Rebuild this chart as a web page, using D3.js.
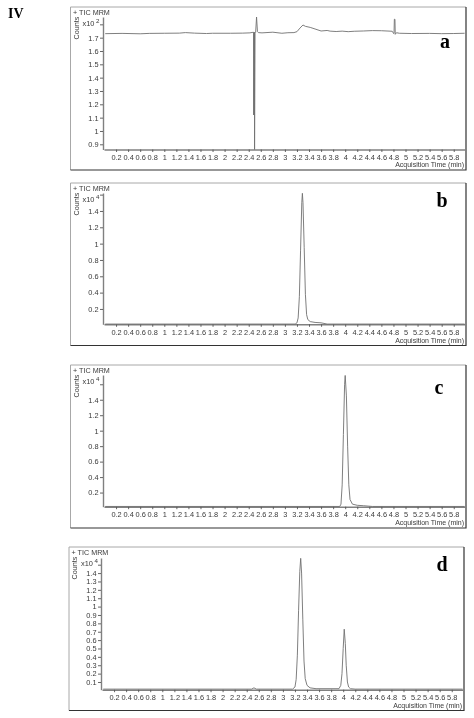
<!DOCTYPE html>
<html>
<head>
<meta charset="utf-8">
<script src="https://cdn.jsdelivr.net/npm/d3@7"></script>
<style>
  html, body { margin: 0; padding: 0; background: #fff; }
  svg { display: block; filter: blur(0.3px); }
  text { font-family: "Liberation Sans", Arial, sans-serif; fill: #3a3a3a; }
  .big { font-family: "Liberation Serif", serif; font-weight: bold; fill: #000; }
</style>
</head>
<body>
<div id="chart"></div>
<script>
// Tick labels
var xTicks = [0.2,0.4,0.6,0.8,1,1.2,1.4,1.6,1.8,2,2.2,2.4,2.6,2.8,3,3.2,3.4,3.6,3.8,4,4.2,4.4,4.6,4.8,5,5.2,5.4,5.6,5.8];
var yTicksA = [0.9,1,1.1,1.2,1.3,1.4,1.5,1.6,1.7,1.8];
var yTicksB = [0.2,0.4,0.6,0.8,1,1.2,1.4,1.6];
var yTicksC = [0.2,0.4,0.6,0.8,1,1.2,1.4,1.6];
var yTicksD = [0.1,0.2,0.3,0.4,0.5,0.6,0.7,0.8,0.9,1,1.1,1.2,1.3,1.4,1.5];

// Trace a (x10^2 counts)
var timeA = [0.02,0.3,0.6,0.75,1,1.25,1.35,1.5,1.7,1.8,2.1,2.3,2.42,2.47,2.482,2.484,2.488,2.49,2.495,2.497,2.505,2.515,2.53,2.545,2.56,2.62,2.8,2.95,3.05,3.15,3.2,3.25,3.3,3.34,3.42,3.5,3.6,3.7,3.75,3.85,3.95,4.05,4.15,4.3,4.45,4.6,4.78,4.805,4.81,4.815,4.825,4.83,4.85,4.9,5.1,5.4,5.6,5.8,5.98];
var countA = [1.73,1.732,1.729,1.732,1.733,1.734,1.738,1.734,1.731,1.733,1.733,1.734,1.736,1.74,1.74,1.12,1.74,1.12,1.74,0.861,1.73,1.74,1.855,1.745,1.738,1.736,1.741,1.733,1.737,1.738,1.745,1.772,1.795,1.785,1.777,1.765,1.75,1.754,1.749,1.746,1.749,1.745,1.748,1.75,1.753,1.752,1.748,1.73,1.735,1.838,1.838,1.725,1.737,1.733,1.731,1.732,1.73,1.731,1.733];

// Trace b (x10^4 counts)
var timeB = [0.02,3.17,3.2,3.22,3.24,3.26,3.28,3.29,3.3,3.32,3.34,3.36,3.38,3.42,3.5,3.6,3.7,5.98];
var countB = [0.015,0.015,0.03,0.09,0.35,0.92,1.5,1.616,1.5,0.95,0.38,0.13,0.07,0.045,0.035,0.03,0.015,0.015];

// Trace c (x10^4 counts)
var timeC = [0.02,3.91,3.93,3.95,3.97,3.99,4,4.02,4.04,4.06,4.08,4.12,4.2,4.3,4.45,5.98];
var countC = [0.02,0.02,0.05,0.3,0.95,1.6,1.714,1.45,0.8,0.3,0.11,0.05,0.035,0.03,0.02,0.02];

// Trace d (x10^4 counts)
var timeD = [0.02,2.48,2.52,2.56,3.16,3.2,3.22,3.24,3.26,3.28,3.295,3.31,3.33,3.35,3.37,3.4,3.45,3.55,3.93,3.96,3.98,4,4.017,4.035,4.05,4.07,4.09,4.12,4.2,5.98];
var countD = [0.015,0.015,0.03,0.015,0.015,0.04,0.13,0.42,0.95,1.42,1.576,1.4,0.85,0.35,0.14,0.06,0.03,0.02,0.02,0.06,0.2,0.5,0.73,0.56,0.3,0.1,0.04,0.02,0.015,0.015];

var panels = [
  {name:"a", exp:"2", t:timeA, c:countA, yTicks:yTicksA, hide:[1.8], dom:[0.861,1.855],
   box:[70.5,7,466,170], left:103, bottom:149.5, top:17, letter:[445,48]},
  {name:"b", exp:"4", t:timeB, c:countB, yTicks:yTicksB, hide:[1.6], dom:[0.012,1.62],
   box:[70.5,183,466,345.5], left:103, bottom:324.3, top:193, letter:[442,207]},
  {name:"c", exp:"4", t:timeC, c:countC, yTicks:yTicksC, hide:[1.6], dom:[0.017,1.72],
   box:[70.5,365,466,528], left:103, bottom:506.7, top:375, letter:[439,394]},
  {name:"d", exp:"4", t:timeD, c:countD, yTicks:yTicksD, hide:[1.5], dom:[0.008,1.58],
   box:[69,547,464,710.5], left:101, bottom:689.7, top:558, letter:[442,571]}
];

var svg = d3.select("#chart").append("svg").attr("width",474).attr("height",718);

svg.append("text").attr("class","big").attr("x",8).attr("y",18).attr("font-size",14).text("IV");

// Draw one chromatogram
function drawPanel(p){
    var g = svg.append("g");
    var x0 = p.box[0], y0 = p.box[1], x1 = p.box[2], y1 = p.box[3];

    // Frame, light on top and left, dark on the other two sides
    g.append("path").attr("d",`M${x0},${y1}V${y0}H${x1}`).attr("fill","none").attr("stroke","#a8a8a8").attr("stroke-width",1);
    g.append("path").attr("d",`M${x1},${y0}V${y1}H${x0}`).attr("fill","none").attr("stroke","#333").attr("stroke-width",1.2);

    var x = d3.scaleLinear().domain([0,6]).range([p.left+1,p.left+1+6*60.3]);
    var y = d3.scaleLinear().domain(p.dom).range([p.bottom,p.top]);

    var xAxis = d3.axisBottom(x).tickValues(xTicks).tickSize(2.5).tickSizeOuter(0).tickPadding(3).tickFormat(d=>String(d));
    var yAxis = d3.axisLeft(y).tickValues(p.yTicks).tickSize(3).tickSizeOuter(0).tickPadding(1.5)
        .tickFormat(d=>p.hide.indexOf(d)>=0 ? "" : String(d));

    var gx = g.append("g").attr("transform",`translate(0,${p.bottom})`).call(xAxis);
    var gy = g.append("g").attr("transform",`translate(${p.left},0)`).call(yAxis);

    [gx,gy].forEach(function(a){
        a.select(".domain").attr("stroke","#808080").attr("stroke-width",1.4);
        a.selectAll(".tick line").attr("stroke","#555").attr("stroke-width",0.9);
        a.selectAll("text").attr("font-size",7.4).attr("font-family",'"Liberation Sans", Arial, sans-serif').attr("fill","#333");
    });

    var line = d3.line().x(d=>x(d[0])).y(d=>y(d[1]));
    g.append("path").datum(d3.zip(p.t,p.c)).attr("d",line)
        .attr("fill","none").attr("stroke","#707070").attr("stroke-width",0.9);

    g.append("text").attr("x",x0+2.5).attr("y",y0+7.5).attr("font-size",7.2).text("+ TIC MRM");
    g.append("text").attr("transform",`translate(${x0+8},${y0+21}) rotate(-90)`).attr("text-anchor","middle")
        .attr("font-size",7.2).text("Counts");
    g.append("text").attr("x",x0+12).attr("y",y0+18.5).attr("font-size",7.4).text("x10");
    g.append("text").attr("x",x0+25.5).attr("y",y0+16).attr("font-size",6.2).text(p.exp);
    g.append("text").attr("x",x1-2).attr("y",y1-3).attr("text-anchor","end").attr("font-size",7).text("Acquisition Time (min)");

    g.append("text").attr("class","big").attr("x",p.letter[0]).attr("y",p.letter[1])
        .attr("text-anchor","middle").attr("font-size",20).text(p.name);
}

panels.forEach(drawPanel);
</script>
</body>
</html>
